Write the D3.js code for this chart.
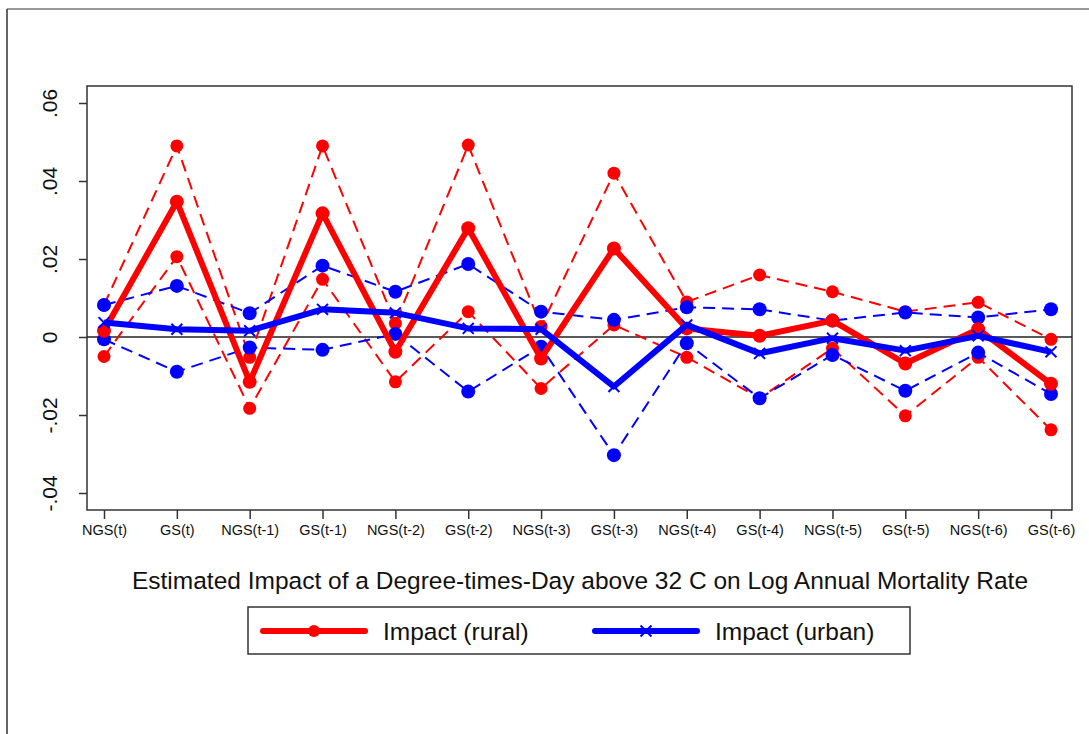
<!DOCTYPE html>
<html>
<head>
<meta charset="utf-8">
<script src="https://cdn.jsdelivr.net/npm/d3@7"></script>
<style>
  body { margin: 0; background: #fff; }
  text { font-family: Arial, "Liberation Sans", sans-serif; }
</style>
</head>
<body>
<div id="container"></div>
<script>
// categories on the x axis
const categories = ['NGS(t)', 'GS(t)', 'NGS(t-1)', 'GS(t-1)', 'NGS(t-2)', 'GS(t-2)', 'NGS(t-3)',
                    'GS(t-3)', 'NGS(t-4)', 'GS(t-4)', 'NGS(t-5)', 'GS(t-5)', 'NGS(t-6)', 'GS(t-6)'];

// rural estimate and confidence band
const rural      = [0.0016, 0.0347, -0.0115, 0.0317, -0.0038, 0.0279, -0.0055, 0.0227, 0.0022, 0.0003, 0.0042, -0.0068, 0.0020, -0.0120];
const ruralUpper = [0.0082, 0.0490, -0.0052, 0.0490, 0.0035, 0.0492, 0.0027, 0.0420, 0.0090, 0.0159, 0.0116, 0.0065, 0.0089, -0.0006];
const ruralLower = [-0.0050, 0.0206, -0.0183, 0.0148, -0.0115, 0.0065, -0.0132, 0.0031, -0.0052, -0.0157, -0.0029, -0.0202, -0.0052, -0.0238];

// urban estimate and confidence band
const urban      = [0.0037, 0.0020, 0.0016, 0.0071, 0.0062, 0.0022, 0.0020, -0.0127, 0.0031, -0.0042, -0.0003, -0.0035, 0.0003, -0.0038];
const urbanUpper = [0.0082, 0.0131, 0.0061, 0.0183, 0.0116, 0.0187, 0.0065, 0.0044, 0.0076, 0.0071, 0.0042, 0.0063, 0.0050, 0.0071];
const urbanLower = [-0.0006, -0.0089, -0.0027, -0.0033, 0.0008, -0.0140, -0.0025, -0.0303, -0.0016, -0.0157, -0.0046, -0.0138, -0.0040, -0.0146];

const yTicks = [-0.04, -0.02, 0, 0.02, 0.04, 0.06];
const yTickLabels = ['-.04', '-.02', '0', '.02', '.04', '.06'];

const xTitle = 'Estimated Impact of a Degree-times-Day above 32 C on Log Annual Mortality Rate';
const legendLabels = ['Impact (rural)', 'Impact (urban)'];

const w = 1089;
const h = 734;
const frame = { left: 87, right: 1072, top: 86, bottom: 510 };

const red = '#ff0000';
const blue = '#0000ff';

const svg = d3.select('#container')
    .append('svg')
    .attr('width', w)
    .attr('height', h);

// outer picture border (top and left only)
svg.append('line').attr('x1', 7).attr('x2', w).attr('y1', 9).attr('y2', 9)
    .attr('stroke', '#777').attr('stroke-width', 1.5);
svg.append('line').attr('x1', 7).attr('x2', 7).attr('y1', 9).attr('y2', h)
    .attr('stroke', '#333').attr('stroke-width', 1.5);

const xScale = d3.scalePoint()
    .domain(categories)
    .range([104, 1051]);

const yScale = d3.scaleLinear()
    .domain([0, 0.06])
    .range([337, 103]);

// plot frame
svg.append('rect')
    .attr('x', frame.left).attr('y', frame.top)
    .attr('width', frame.right - frame.left).attr('height', frame.bottom - frame.top)
    .attr('fill', 'none').attr('stroke', '#333').attr('stroke-width', 1.5);

// zero line
svg.append('line')
    .attr('x1', frame.left).attr('x2', frame.right)
    .attr('y1', yScale(0)).attr('y2', yScale(0))
    .attr('stroke', '#222').attr('stroke-width', 1.5);

// axes
const yAxis = d3.axisLeft(yScale)
    .tickValues(yTicks)
    .tickSize(8)
    .tickFormat((d, i) => yTickLabels[i]);

const gy = svg.append('g')
    .attr('id', 'y-axis')
    .attr('transform', `translate(${frame.left}, 0)`)
    .call(yAxis);
gy.select('.domain').remove();
gy.selectAll('line').attr('stroke', '#333').attr('stroke-width', 1.5);
gy.selectAll('text')
    .attr('font-size', 21)
    .attr('fill', '#111')
    .attr('x', 0).attr('y', 0).attr('dy', '0.35em')
    .attr('transform', 'translate(-37, 0) rotate(-90)')
    .attr('text-anchor', 'middle');

const xAxis = d3.axisBottom(xScale).tickSize(9).tickPadding(6);

const gx = svg.append('g')
    .attr('id', 'x-axis')
    .attr('transform', `translate(0, ${frame.bottom})`)
    .call(xAxis);
gx.select('.domain').remove();
gx.selectAll('line').attr('stroke', '#333').attr('stroke-width', 1.5);
gx.selectAll('text').attr('font-size', 14.5).attr('fill', '#111');

// series
const line = d3.line()
    .x((d, i) => xScale(categories[i]))
    .y(d => yScale(d));

function drawSeries(values, color, width, dashed, marker, r) {
    svg.append('path')
        .datum(values)
        .attr('d', line)
        .attr('fill', 'none')
        .attr('stroke', color)
        .attr('stroke-width', width)
        .attr('stroke-linejoin', 'round')
        .attr('stroke-dasharray', dashed ? '12,7' : null);
    if (marker === 'circle') {
        svg.append('g').selectAll('circle')
            .data(values)
            .join('circle')
            .attr('cx', (d, i) => xScale(categories[i]))
            .attr('cy', d => yScale(d))
            .attr('r', r)
            .attr('fill', color);
    } else if (marker === 'x') {
        svg.append('g').selectAll('path')
            .data(values)
            .join('path')
            .attr('d', d3.symbol(d3.symbolX, 80))
            .attr('transform', (d, i) => `translate(${xScale(categories[i])}, ${yScale(d)})`)
            .attr('fill', 'none')
            .attr('stroke', color)
            .attr('stroke-width', 2);
    }
}

drawSeries(ruralUpper, red, 2, true, 'circle', 6.5);
drawSeries(ruralLower, red, 2, true, 'circle', 6.5);
drawSeries(urbanUpper, blue, 2, true, 'circle', 7);
drawSeries(urbanLower, blue, 2, true, 'circle', 7);
drawSeries(rural, red, 6, false, 'circle', 7);
drawSeries(urban, blue, 6, false, 'x', 0);

// x title
svg.append('text')
    .attr('x', 580).attr('y', 589)
    .attr('text-anchor', 'middle')
    .attr('font-size', 24.5)
    .attr('fill', '#111')
    .text(xTitle);

// legend
const legend = svg.append('g').attr('id', 'legend');
legend.append('rect')
    .attr('x', 248).attr('y', 607).attr('width', 662).attr('height', 47)
    .attr('fill', 'none').attr('stroke', '#333').attr('stroke-width', 1.5);

const legendItems = [
    { label: legendLabels[0], color: red, marker: 'circle', x: 260 },
    { label: legendLabels[1], color: blue, marker: 'x', x: 592 }
];
legendItems.forEach(item => {
    const ly = 631;
    legend.append('line')
        .attr('x1', item.x + 3).attr('x2', item.x + 105)
        .attr('y1', ly).attr('y2', ly)
        .attr('stroke', item.color).attr('stroke-width', 6).attr('stroke-linecap', 'round');
    if (item.marker === 'circle') {
        legend.append('circle').attr('cx', item.x + 54).attr('cy', ly).attr('r', 6).attr('fill', item.color);
    } else {
        legend.append('path')
            .attr('d', d3.symbol(d3.symbolX, 80))
            .attr('transform', `translate(${item.x + 54}, ${ly})`)
            .attr('fill', 'none').attr('stroke', item.color).attr('stroke-width', 2);
    }
    legend.append('text')
        .attr('x', item.x + 123).attr('y', ly).attr('dy', '0.35em')
        .attr('font-size', 24.5)
        .attr('fill', '#111')
        .text(item.label);
});
</script>
</body>
</html>
